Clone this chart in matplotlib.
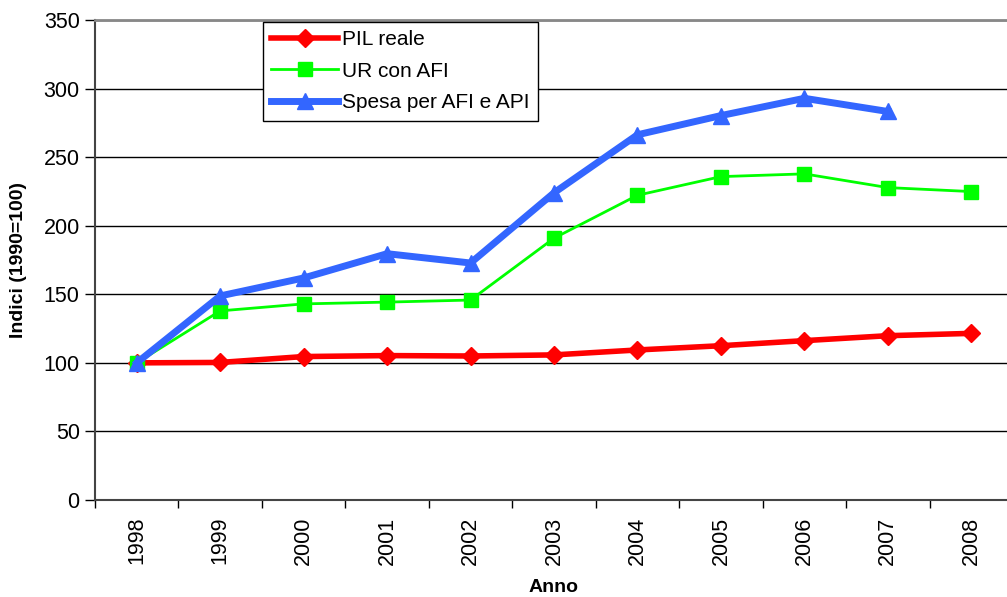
import numpy as np
import matplotlib
matplotlib.use('Agg')
import matplotlib.pyplot as plt

plt.rcParams['font.family'] = ['Liberation Sans', 'DejaVu Sans']

# dati
anni = ['1998', '1999', '2000', '2001', '2002', '2003', '2004', '2005', '2006', '2007', '2008']
pil_reale = [100, 100.3, 104.6, 105.3, 105.0, 105.8, 109.4, 112.5, 116.2, 119.8, 121.5]
ur_afi = [100, 137.9, 143.0, 144.3, 145.8, 190.9, 222.2, 235.8, 237.8, 227.8, 224.9]
spesa_afi_api = [100, 148.8, 161.9, 179.6, 172.8, 224.0, 266.3, 280.3, 292.9, 283.3]

fig = plt.figure(figsize=(10.07, 5.97), dpi=100)
ax = fig.add_axes([95 / 1007, (597 - 500) / 597, 918 / 1007, 480 / 597])

x = np.arange(len(anni))
ax.plot(x, pil_reale, color='#FF0000', lw=4, marker='D', ms=9, label='PIL reale', zorder=3)
ax.plot(x, ur_afi, color='#00FF00', lw=2, marker='s', ms=10, label='UR con AFI', zorder=4)
ax.plot(x[:len(spesa_afi_api)], spesa_afi_api, color='#3366FF', lw=5, marker='^', ms=11,
        label='Spesa per AFI e API', zorder=5)

ax.set_xlim(-0.5, len(anni) - 0.5)
ax.set_ylim(0, 350)
ax.set_yticks(range(0, 351, 50))
ax.yaxis.grid(True, color='black', lw=1)
ax.set_axisbelow(True)

ax.set_xticks(x)
ax.set_xticklabels(anni, rotation=90, fontsize=15.5)
ax.set_xticks(np.arange(-0.5, len(anni)), minor=True)
ax.tick_params(axis='x', which='major', length=0, pad=12)
ax.tick_params(axis='x', which='minor', length=6, width=1, direction='out')
ax.tick_params(axis='y', length=7, width=1, labelsize=15.5, pad=4)

ax.spines['top'].set_color('#888888')
ax.spines['top'].set_linewidth(2)
ax.spines['right'].set_visible(False)
ax.spines['left'].set_color('#444444')
ax.spines['left'].set_linewidth(1.5)
ax.spines['bottom'].set_color('#444444')
ax.spines['bottom'].set_linewidth(1.5)

ax.set_xlabel('Anno', fontsize=14, fontweight='bold', labelpad=10)
ax.set_ylabel('Indici (1990=100)', fontsize=14, fontweight='bold', labelpad=12)

leg = ax.legend(loc='upper left', bbox_to_anchor=(168 / 918, 0.996), fontsize=15,
                frameon=True, fancybox=False, edgecolor='black', framealpha=1,
                borderpad=0.4, labelspacing=0.6, handlelength=3.2, handletextpad=0.2,
                borderaxespad=0)
leg.get_frame().set_linewidth(1)

fig.savefig('out.png', dpi=100)
